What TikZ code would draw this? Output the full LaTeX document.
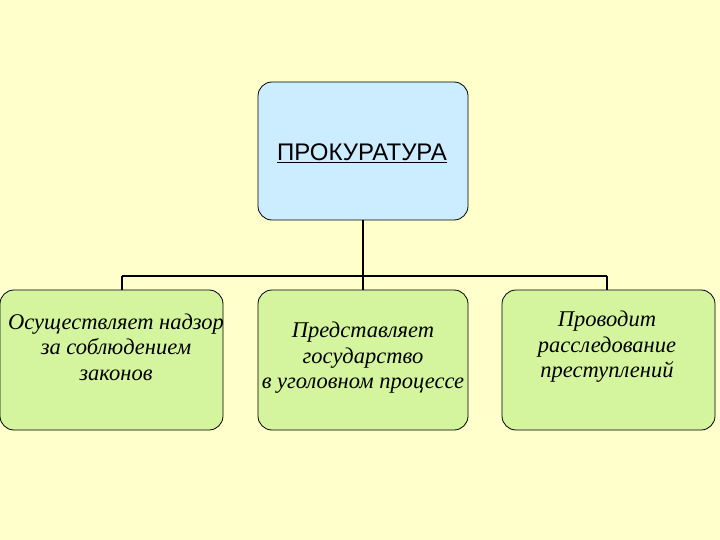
\documentclass[tikz,border=0pt]{standalone}
\usepackage{fontspec}
\setmainfont{Liberation Serif}
\newfontfamily\arialf{Liberation Sans}
\definecolor{bg}{HTML}{FFFFCC}
\definecolor{topc}{HTML}{CCECFF}
\definecolor{botc}{HTML}{D4F59E}
\begin{document}
\begin{tikzpicture}[x=1pt,y=-1pt,
  box/.style={draw=black,line width=0.8pt,rounded corners=14pt,minimum width=#1,minimum height=140pt,align=center,inner sep=0pt},
  lbl/.style={font=\itshape\fontsize{22.5}{25.5}\selectfont,align=center},
  conn/.style={line width=1.6pt}]
\fill[bg] (0,0) rectangle (720,540);
\useasboundingbox (0,0) rectangle (720,540);
\node[box=210pt,fill=topc,minimum height=138pt] (top) at (363,151) {};
\node[font=\arialf\fontsize{24}{28}\selectfont] (tt) at (362,153) {\underline{ПРОКУРАТУРА}};
\node[box=223pt,fill=botc] (b1) at (111.5,360) {};
\node[box=210pt,fill=botc] (b2) at (363,360) {};
\node[box=213pt,fill=botc] (b3) at (608.5,360) {};
\node[lbl] (t1) at (116,347) {Осуществляет надзор\\за соблюдением\\законов};
\node[lbl] (t2) at (363,358) {Представляет\\государство\\в уголовном процессе};
\node[lbl] (t3) at (607,347) {Проводит\\расследование\\преступлений};
\coordinate (j) at (363,276);
\coordinate (l) at (122,276);
\coordinate (r) at (607,276);
\draw[conn] (top.south) -- (j);
\draw[conn] (l) -- (r);
\draw[conn] (l) -- (l |- b1.north);
\draw[conn] (j) -- (b2.north);
\draw[conn] (r) -- (r |- b3.north);
\end{tikzpicture}
\end{document}
